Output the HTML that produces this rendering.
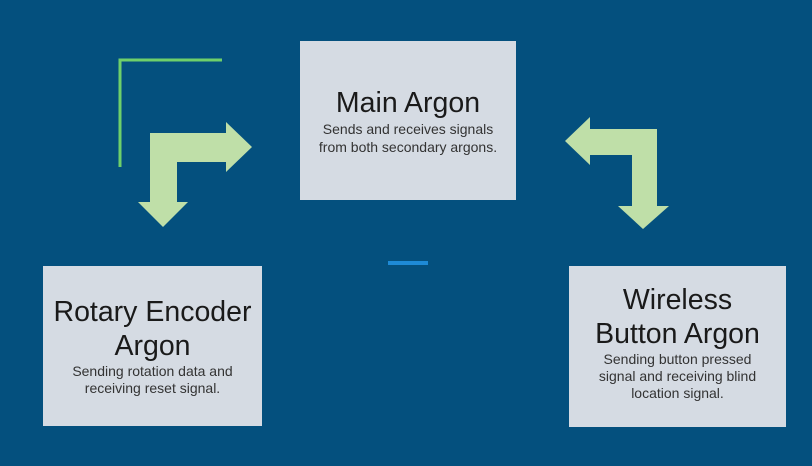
<!DOCTYPE html>
<html><head><style>
body{margin:0;width:812px;height:466px;background:#04507e;position:relative;overflow:hidden;font-family:"Liberation Sans",sans-serif}
.b{position:absolute;background:#d5dbe3}
.t{position:absolute;left:0;right:0;text-align:center;color:#1a1a1a;white-space:nowrap;line-height:1}
.h{font-size:28.5px}
.s{font-size:14px;color:#333}
</style></head><body>
<svg width="812" height="466" style="position:absolute;left:0;top:0">
<polyline points="120,167 120,60 222,60" fill="none" stroke="#6fd06a" stroke-width="3"/>
<polygon fill="#bfdfa8" points="150,133 226,133 226,122 252,147 226,172 226,162 177,162 177,202 188,202 163,227 138,202 150,202"/>
<polygon fill="#bfdfa8" points="657,129 590,129 590,117 565,141 590,165 590,155 632,155 632,206 618,206 643,229 669,206 657,206"/>
<rect x="388" y="261" width="40" height="4" fill="#1e8ad6"/>
</svg>
<div class="b" style="left:300px;top:41px;width:216px;height:159px">
<div class="t h" style="top:48px">Main Argon</div>
<div class="t s" style="top:81px">Sends and receives signals</div>
<div class="t s" style="top:99px">from both secondary argons.</div>
</div>
<div class="b" style="left:43px;top:266px;width:219px;height:160px">
<div class="t h" style="top:32px">Rotary Encoder</div>
<div class="t h" style="top:66px">Argon</div>
<div class="t s" style="top:98px">Sending rotation data and</div>
<div class="t s" style="top:115px">receiving reset signal.</div>
</div>
<div class="b" style="left:569px;top:266px;width:217px;height:161px">
<div class="t h" style="top:20px">Wireless</div>
<div class="t h" style="top:54px">Button Argon</div>
<div class="t s" style="top:86px">Sending button pressed</div>
<div class="t s" style="top:103px">signal and receiving blind</div>
<div class="t s" style="top:120px">location signal.</div>
</div>
</body></html>
